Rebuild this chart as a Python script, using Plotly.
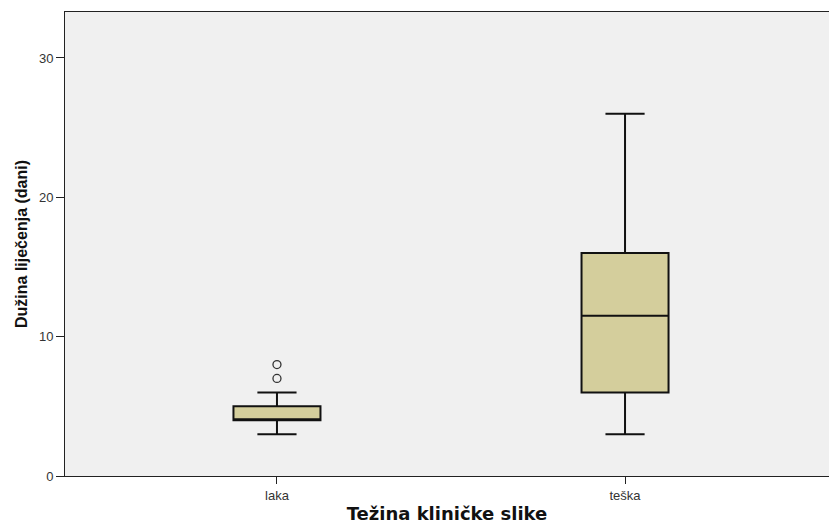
import plotly.graph_objects as go

categories = ["laka", "teška"]
q1 = [4, 6]
median = [4, 11.5]
q3 = [5, 16]
lower_whisker = [3, 3]
upper_whisker = [6, 26]
outlier_cat = ["laka", "laka"]
outlier_val = [7, 8]
y_ticks = [0, 10, 20, 30]

fig = go.Figure()
fig.add_trace(go.Box(
    x=categories, q1=q1, median=median, q3=q3,
    lowerfence=lower_whisker, upperfence=upper_whisker,
    boxpoints=False, width=0.25, whiskerwidth=0.45,
    fillcolor="#d4ce9c", line=dict(color="#111111", width=2),
    showlegend=False, hoverinfo="skip",
))
fig.add_trace(go.Scatter(
    x=outlier_cat, y=outlier_val, mode="markers",
    marker=dict(symbol="circle-open", size=8, color="#333333", line=dict(width=1.3)),
    showlegend=False, hoverinfo="skip",
))

fig.update_layout(
    width=829, height=524,
    margin=dict(l=65, r=0, t=12, b=48, autoexpand=False),
    paper_bgcolor="white", plot_bgcolor="#f0f0f0",
    font=dict(family="Liberation Sans, Arial, sans-serif", size=13, color="#333333"),
    xaxis=dict(
        type="category", range=[-0.609, 1.586], automargin=False,
        showline=True, linecolor="#222222", linewidth=1, mirror=True,
        ticks="outside", ticklen=7, tickcolor="#222222",
        showgrid=False, zeroline=False,
        title=dict(text="Težina kliničke slike", standoff=8,
                   font=dict(family="DejaVu Sans, sans-serif", size=18, color="#111111", weight="bold")),
    ),
    yaxis=dict(
        range=[0, 33.3], tickvals=y_ticks, automargin=False,
        showline=True, linecolor="#222222", linewidth=1,
        ticks="outside", ticklen=8, tickcolor="#222222",
        showgrid=False, zeroline=False,
        title=dict(text="Dužina liječenja (dani)", standoff=7,
                   font=dict(family="Liberation Sans Narrow, Arial Narrow, sans-serif", size=16, color="#111111", weight="bold")),
    ),
)

fig.write_html("out.html", config={"displayModeBar": False},
               post_script="document.body.style.margin='0';")
